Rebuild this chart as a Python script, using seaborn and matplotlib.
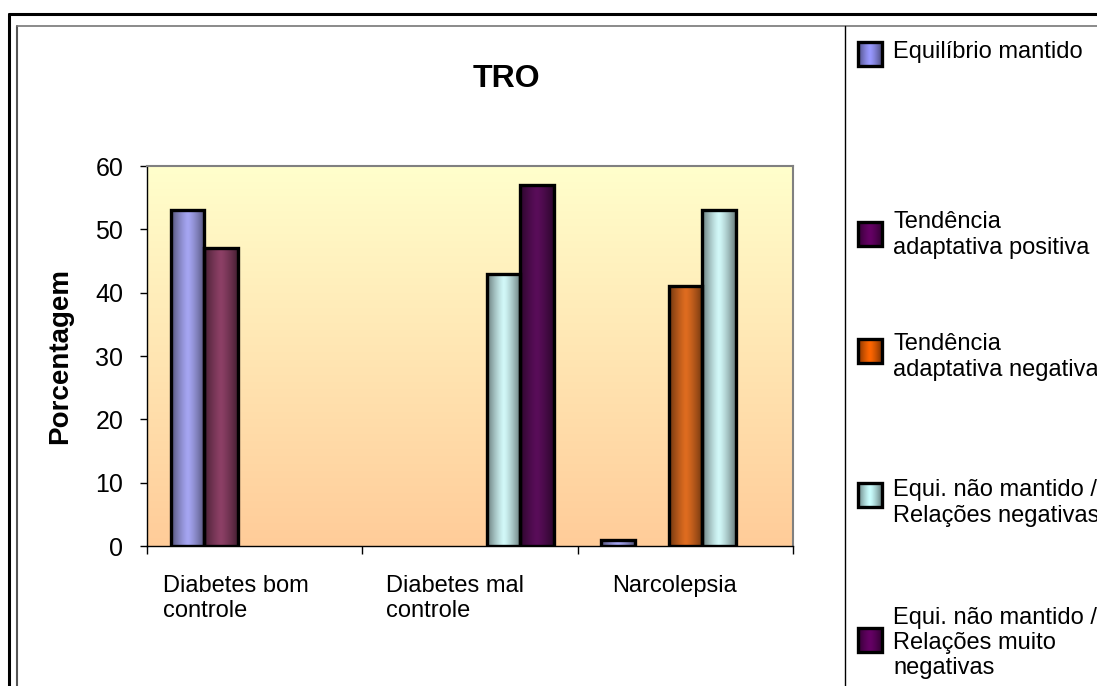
import numpy as np
import pandas as pd
import matplotlib
matplotlib.use("Agg")
import matplotlib.pyplot as plt
import matplotlib.colors as mcolors
from matplotlib.lines import Line2D
from matplotlib.patches import Rectangle
import seaborn as sns

# data
categories = ["Diabetes bom\ncontrole", "Diabetes mal\ncontrole", "Narcolepsia"]
series_names = ["Equilíbrio mantido",
                "Tendência adaptativa positiva",
                "Tendência adaptativa negativa",
                "Equi. não mantido / Relações negativas",
                "Equi. não mantido / Relações muito negativas"]
legend_labels = ["Equilíbrio mantido",
                 "Tendência\nadaptativa positiva",
                 "Tendência\nadaptativa negativa",
                 "Equi. não mantido /\nRelações negativas",
                 "Equi. não mantido /\nRelações muito\nnegativas"]
equilibrio = [53, 0, 1]
tend_positiva = [47, 0, 0]
tend_negativa = [0, 0, 41]
equi_negativas = [0, 43, 53]
equi_muito_negativas = [0, 57, 0]
y_ticks = [0, 10, 20, 30, 40, 50, 60]

bar_colors = ["#9999FF", "#993366", "#FF6600", "#CCFFFF", "#660066"]
legend_colors = ["#9999FF", "#660066", "#FF6600", "#CCFFFF", "#660066"]

values = [equilibrio, tend_positiva, tend_negativa, equi_negativas, equi_muito_negativas]
df = pd.DataFrame([(c, s, v[i]) for s, v in zip(series_names, values)
                   for i, c in enumerate(categories)],
                  columns=["categoria", "serie", "valor"])

sns.set_style("white")
plt.rcParams["font.family"] = ["Liberation Sans", "DejaVu Sans"]
plt.rcParams["text.color"] = "black"
plt.rcParams["axes.labelcolor"] = "black"
plt.rcParams["xtick.color"] = "black"
plt.rcParams["ytick.color"] = "black"

W, H = 1097, 686
fig = plt.figure(figsize=(W / 100, H / 100), dpi=100)
ax = fig.add_axes([147 / W, 1 - 546 / H, 646 / W, 380 / H])


def shade_fill(axis, patch, color, zorder):
    # excel style gradient: dark edges, light centre
    x0, y0 = patch.get_x(), patch.get_y()
    w, h = patch.get_width(), patch.get_height()
    t = np.linspace(0, 1, 64)
    f = 1 - 0.5 * np.abs(2 * t - 1) ** 1.3
    rgb = np.array(mcolors.to_rgb(color))
    img = (rgb[None, :] * f[:, None])[None, :, :]
    im = axis.imshow(img, extent=[x0, x0 + w, y0, y0 + h], aspect="auto",
                     zorder=zorder, interpolation="bilinear")
    im.set_clip_path(patch)


# background gradient of the plot area
bg = np.linspace(0, 1, 256)[:, None, None]
top, bottom = np.array(mcolors.to_rgb("#FFFFCC")), np.array(mcolors.to_rgb("#FFCC99"))
bg_img = top * (1 - bg) + bottom * bg
ax.imshow(bg_img, extent=[0, 1, 0, 1], transform=ax.transAxes, aspect="auto", zorder=0)

sns.barplot(data=df, x="categoria", y="valor", hue="serie", order=categories,
            hue_order=series_names, palette=bar_colors, width=0.78,
            edgecolor="black", linewidth=2.4, errorbar=None, legend=False, ax=ax)

for p in list(ax.patches):
    if p.get_height() <= 0:
        p.set_visible(False)
        continue
    fc = p.get_facecolor()
    p.set_facecolor("none")
    p.set_zorder(3)
    shade_fill(ax, p, fc[:3], 2)

ax.set_xlim(-0.5, 2.5)
ax.set_ylim(0, 60)
ax.set_yticks(y_ticks)
ax.set_xticks([-0.5, 0.5, 1.5, 2.5])
ax.set_xticklabels([])
ax.set_xlabel("")
ax.tick_params(axis="y", direction="out", length=5, width=1, color="black",
               labelsize=18, pad=12, left=True)
ax.tick_params(axis="x", direction="out", length=6, width=1, color="black", bottom=True)
for side in ["top", "right"]:
    ax.spines[side].set_color("#808080")
    ax.spines[side].set_linewidth(1.5)
for side in ["left", "bottom"]:
    ax.spines[side].set_color("black")
    ax.spines[side].set_linewidth(1.0)
ax.set_ylabel("Porcentagem", fontsize=20, fontweight="bold")
ax.yaxis.set_label_coords(-0.114, 0.5)

# category labels, left aligned under each group
label_x = [-0.426, 0.612, 1.658]
for lx, c in zip(label_x, categories):
    ax.annotate(c, xy=(lx, 0), xycoords=("data", "axes fraction"), xytext=(0, -29),
                textcoords="offset pixels", ha="left", va="top", fontsize=17,
                linespacing=1.2)

fig.text(506 / W, 1 - 87 / H, "TRO", ha="center", va="baseline",
         fontsize=23, fontweight="bold")

# legend panel in pixel coordinates
lax = fig.add_axes([845 / W, 0, (W - 845) / W, 1 - 26 / H])
lax.set_axis_off()
marker_top = [42, 222, 339, 483, 628]
text_mid = [52, 235, 357, 503, 643]
for mt, tm, lab, col in zip(marker_top, text_mid, legend_labels, legend_colors):
    r = Rectangle((858, mt), 24, 24, facecolor="none", edgecolor="black",
                  linewidth=2.4, zorder=3)
    lax.add_patch(r)
    shade_fill(lax, r, col, 2)
    lax.text(893, tm, lab, ha="left", va="center", fontsize=17, linespacing=1.2)
lax.set_xlim(845, W)
lax.set_ylim(H, 26)

# chart borders
fig.add_artist(Line2D([9 / W, 9 / W], [1 - 14 / H, 0], color="black", lw=2.2))
fig.add_artist(Line2D([9 / W, 1], [1 - 14 / H, 1 - 14 / H], color="black", lw=2.2))
fig.add_artist(Line2D([16.5 / W, 16.5 / W], [1 - 25.5 / H, 0], color="#555555", lw=1.5))
fig.add_artist(Line2D([16.5 / W, 1], [1 - 25.5 / H, 1 - 25.5 / H], color="#777777", lw=1.2))
fig.add_artist(Line2D([845 / W, 845 / W], [1 - 25.5 / H, 0], color="black", lw=1.0))

fig.savefig("out.png", dpi=100)
